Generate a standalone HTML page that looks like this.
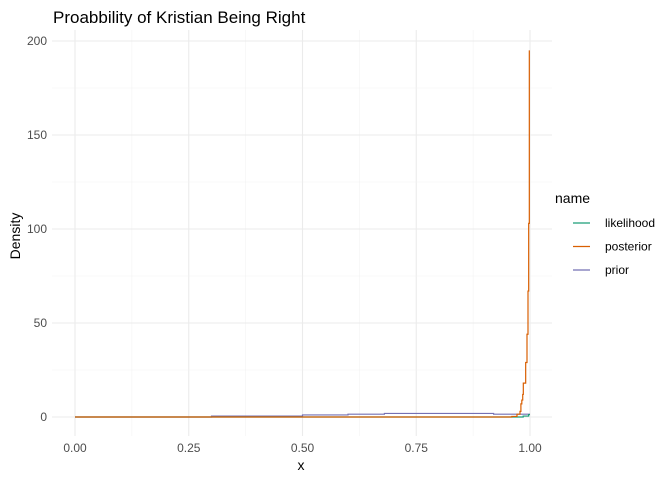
<!DOCTYPE html>
<html><head><meta charset="utf-8"><style>
body{margin:0;background:#fff;font-family:"Liberation Sans",Arial,sans-serif}
svg text{font-family:"Liberation Sans",Arial,sans-serif}
</style></head><body>
<svg id="chart" width="672" height="480" xmlns="http://www.w3.org/2000/svg">
<text x="53" y="23" font-size="17" fill="#000">Proabbility of Kristian Being Right</text>
<g id="grid"></g><g id="series"></g><g id="axes"></g>
<text x="301" y="470" font-size="14" text-anchor="middle" fill="#000">x</text>
<text transform="translate(20,236) rotate(-90)" font-size="14" text-anchor="middle" fill="#000">Density</text>
<g>
<text x="555" y="203" font-size="14" fill="#000">name</text>
<g id="legend-entries"></g>
</g>
</svg>
<script>
const xTicks=[0,0.25,0.5,0.75,1.0];
const xTickLabels=["0.00","0.25","0.50","0.75","1.00"];
const yTicks=[0,50,100,150,200];
const yTickLabels=["0","50","100","150","200"];
const seriesNames=["likelihood","posterior","prior"];
const seriesColors=["#1B9E77","#D95F02","#7570B3"];
const priorX=[0,0.3,0.5,0.6,0.68,0.92,1.0];
const priorY=[0,0.5,1.1,1.5,1.9,1.5,1.5];
const likelihoodX=[0,0.96,0.985,0.997,1.0];
const likelihoodY=[0,0,0.5,1.3,1.3];
const posteriorX=[0,0.96,0.9714,0.978,0.98,0.982,0.984,0.9853,0.9905,0.9934,0.9956,0.9971,0.9985];
const posteriorY=[0,0.3,1.5,3,7,9,12,18,29,44,67,103,159,195];
const NS="http://www.w3.org/2000/svg";
const X0=75,X1=530,Y0=417,Y200=41;
const sx=v=>X0+(X1-X0)*v;
const sy=v=>Y0+(Y200-Y0)*v/200;
function mk(tag,attrs,parent){const e=document.createElementNS(NS,tag);for(const k in attrs)e.setAttribute(k,attrs[k]);parent.appendChild(e);return e;}
const grid=document.getElementById('grid'),axes=document.getElementById('axes'),ser=document.getElementById('series');
for(let i=0;i<xTicks.length;i++){
  const l=mk('line',{x1:sx(xTicks[i]),x2:sx(xTicks[i]),y1:30,y2:436,stroke:'#ebebeb','stroke-width':1.1},grid);
  
  
  if(i<xTicks.length-1){const m=mk('line',{x1:sx((xTicks[i]+xTicks[i+1])/2),x2:sx((xTicks[i]+xTicks[i+1])/2),y1:30,y2:436,stroke:'#f2f2f2','stroke-width':0.6},grid);
  
  }
  const t=mk('text',{x:sx(xTicks[i]),y:452,'font-size':12,'text-anchor':'middle',fill:'#4d4d4d'},axes);
  t.textContent=xTickLabels[i];
  
  
}
for(let i=0;i<yTicks.length;i++){
  const l=mk('line',{x1:52,x2:552,y1:sy(yTicks[i]),y2:sy(yTicks[i]),stroke:'#ebebeb','stroke-width':1.1},grid);
  
  
  if(i<yTicks.length-1){const m=mk('line',{x1:52,x2:552,y1:sy((yTicks[i]+yTicks[i+1])/2),y2:sy((yTicks[i]+yTicks[i+1])/2),stroke:'#f2f2f2','stroke-width':0.6},grid);
  
  }
  const t=mk('text',{x:47,y:sy(yTicks[i])+4,'font-size':12,'text-anchor':'end',fill:'#4d4d4d'},axes);
  t.textContent=yTickLabels[i];
  
  
}
function stepPath(xs,ys){let d='M'+sx(xs[0])+','+sy(ys[0]);for(let i=1;i<xs.length;i++){d+=' H'+sx(xs[i])+' V'+sy(ys[i]);}
  if(ys.length>xs.length)d+=' V'+sy(ys[ys.length-1]);return d;}
const data=[[likelihoodX,likelihoodY],[posteriorX,posteriorY],[priorX,priorY]];
const order=[2,0,1];
order.forEach(i=>{const p=mk('path',{d:stepPath(data[i][0],data[i][1]),fill:'none',stroke:seriesColors[i],'stroke-width':1.2},ser);
  
  });
const le=document.getElementById('legend-entries');
seriesNames.forEach((n,i)=>{const y=223+i*23.5;
  const l=mk('line',{x1:573,x2:590,y1:y,y2:y,stroke:seriesColors[i],'stroke-width':1.2},le);
  
  
  const t=mk('text',{x:605,y:y+4,'font-size':12,fill:'#000'},le);
  t.textContent=n;
  
  });
</script>
</body></html>
